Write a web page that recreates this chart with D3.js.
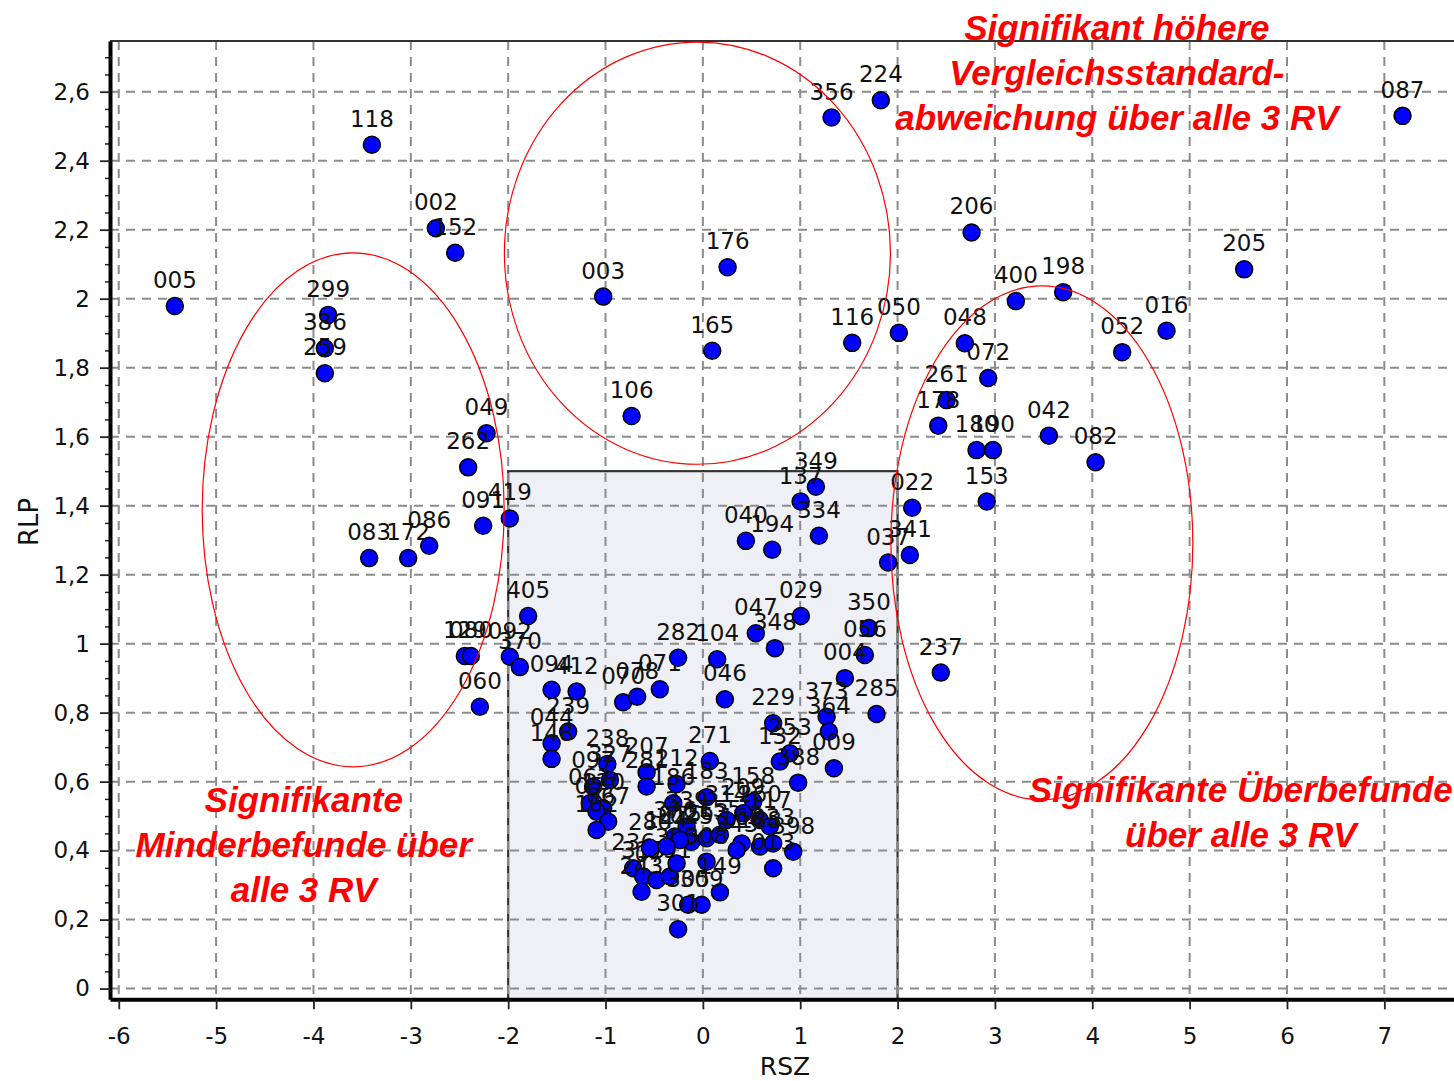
<!DOCTYPE html>
<html>
<head>
<meta charset="utf-8">
<script src="https://cdn.jsdelivr.net/npm/d3@7"></script>
<style>
  html, body { margin: 0; padding: 0; background: #fff; }
  svg { display: block; }
</style>
</head>
<body>
<svg id="chart" width="1454" height="1081"></svg>
<script>
// ---------------- data ----------------
const ids = ["005","118","002","152","299","386","259","049","262","091","419","083","172","086",
  "129","080","092","370","060","405","094","412","239","044","148","070","078","071","282","104",
  "046","047","348","029","350","056","004","285","229","373","364","253","132","009","388","158",
  "349","137","334","040","194","022","341","037","237","261","178","180","190","153","042","082",
  "072","048","400","198","052","016","205","087","206","356","224","176","003","165","116","050","106",
  "238","327","207","281","271","212","183","097","062","120","057","067","102","186","339","376",
  "025","263","155","314","209","260","117","168","188","033","398","343","013","236","318","077",
  "291","300","308","243","149","309","305","301","015","144","280"];
const rsz = [-5.424,-3.400,-2.743,-2.544,-3.849,-3.883,-3.883,-2.222,-2.411,-2.257,-1.983,-3.428,-3.027,-2.811,
  -2.445,-2.383,-1.983,-1.880,-2.291,-1.795,-1.554,-1.297,-1.384,-1.554,-1.554,-0.819,-0.675,-0.442,-0.254,0.147,
  0.226,0.544,0.740,1.007,1.705,1.664,1.459,1.784,0.722,1.271,1.294,0.894,0.791,1.346,0.979,0.517,
  1.161,1.004,1.192,0.442,0.712,2.150,2.126,1.903,2.444,2.504,2.418,2.811,2.980,2.916,3.554,4.034,
  2.931,2.691,3.215,3.701,4.307,4.763,5.560,7.187,2.760,1.322,1.828,0.254,-1.024,0.096,1.534,2.013,-0.732,
  -0.981,-0.955,-0.578,-0.578,0.072,-0.270,0.038,-1.127,-1.161,-1.024,-1.092,-0.973,-1.092,-0.304,-0.167,-0.288,
  -0.116,0.038,0.175,0.243,0.414,0.586,0.688,0.398,0.586,0.722,0.928,0.346,0.722,-0.716,-0.613,-0.476,
  -0.339,-0.270,0.038,-0.630,0.175,-0.013,-0.151,-0.254,-0.236,-0.373,-0.544];
const rlp = [1.979,2.446,2.204,2.133,1.953,1.856,1.784,1.610,1.511,1.342,1.363,1.248,1.248,1.284,
  0.964,0.964,0.962,0.932,0.817,1.080,0.866,0.861,0.745,0.711,0.666,0.830,0.846,0.868,0.959,0.955,
  0.839,1.030,0.987,1.080,1.045,0.967,0.900,0.796,0.769,0.788,0.745,0.682,0.658,0.639,0.597,0.542,
  1.455,1.412,1.313,1.298,1.272,1.394,1.257,1.235,0.916,1.706,1.632,1.561,1.561,1.412,1.603,1.526,
  1.770,1.871,1.993,2.019,1.845,1.907,2.085,2.530,2.192,2.525,2.575,2.091,2.006,1.849,1.872,1.901,1.660,
  0.651,0.605,0.627,0.586,0.660,0.593,0.555,0.586,0.537,0.523,0.513,0.484,0.460,0.537,0.470,0.441,
  0.426,0.436,0.446,0.489,0.508,0.489,0.470,0.421,0.412,0.421,0.397,0.402,0.349,0.349,0.325,0.315,
  0.325,0.363,0.368,0.281,0.279,0.243,0.243,0.172,0.431,0.412,0.408];

const xTicks = [-6,-5,-4,-3,-2,-1,0,1,2,3,4,5,6,7];
const xTickLabels = ["-6","-5","-4","-3","-2","-1","0","1","2","3","4","5","6","7"];
const yTicks = [0,0.2,0.4,0.6,0.8,1,1.2,1.4,1.6,1.8,2,2.2,2.4,2.6];
const yTickLabels = ["0","0,2","0,4","0,6","0,8","1","1,2","1,4","1,6","1,8","2","2,2","2,4","2,6"];
const xTitle = "RSZ";
const yTitle = "RLP";

// tolerance box (RSZ -2..2, RLP up to 1.5)
const boxX = [-2, 2];
const boxYTop = 1.5;

// annotation ellipses: [cx, cy, rx, ry] in data units
const ellCx = [-3.592, -0.056, 3.482];
const ellCy = [1.388, 2.132, 1.292];
const ellRx = [1.551, 1.983, 1.551];
const ellRy = [0.745, 0.612, 0.745];

// annotation texts
const noteLines = [
  ["Signifikant höhere", "Vergleichsstandard-", "abweichung über alle 3 RV"],
  ["Signifikante", "Minderbefunde über", "alle 3 RV"],
  ["Signifikante Überbefunde", "über alle 3 RV"]
];
const noteX = [4.253, -4.10, 5.526];
const noteY = [2.750, 0.513, 0.542];

// ---------------- layout ----------------
const svg = d3.select("#chart");
const L = 110, T = 41, R = 1470, B = 999.3;
const x = d3.scaleLinear().domain([-6.09, 7.88]).range([L, R]);
const y = d3.scaleLinear().domain([-0.031, 2.747]).range([B, T]);
const lineSpacing = 45;

svg.append("rect").attr("width", 1454).attr("height", 1081).attr("fill", "#fff");

svg.append("defs").append("clipPath").attr("id", "plotclip")
  .append("rect").attr("x", L).attr("y", T).attr("width", R - L).attr("height", B - T);

const plot = svg.append("g").attr("clip-path", "url(#plotclip)");

// grey box
plot.append("rect")
  .attr("x", x(boxX[0])).attr("y", y(boxYTop))
  .attr("width", x(boxX[1]) - x(boxX[0]))
  .attr("height", y(-0.031) - y(boxYTop) + 4)
  .attr("fill", "#eef0f5")
  .attr("stroke", "#333").attr("stroke-width", 2.2);

// grid
const grid = plot.append("g").attr("stroke", "#8c8c8c").attr("stroke-width", 2)
  .attr("stroke-dasharray", "9,7").attr("fill", "none");
grid.selectAll("line.gx").data(xTicks).join("line").attr("class", "gx")
  .attr("x1", d => x(d)).attr("x2", d => x(d)).attr("y1", T).attr("y2", B);
grid.selectAll("line.gy").data(yTicks).join("line").attr("class", "gy")
  .attr("y1", d => y(d)).attr("y2", d => y(d)).attr("x1", L).attr("x2", R);

// points + labels
const pts = ids.map((id, i) => ({ id, rsz: rsz[i], rlp: rlp[i] }));
const pg = plot.selectAll("g.pt").data(pts).join("g").attr("class", "pt");
pg.append("circle")
  .attr("cx", d => x(d.rsz)).attr("cy", d => y(d.rlp)).attr("r", 8.5)
  .attr("fill", "#0000ff").attr("stroke", "#000").attr("stroke-width", 1.5);
pg.append("text")
  .attr("x", d => x(d.rsz)).attr("y", d => y(d.rlp) - 18)
  .attr("text-anchor", "middle")
  .attr("font-family", "DejaVu Sans, sans-serif").attr("font-size", 23)
  .attr("fill", "#111")
  .text(d => d.id);

// top border
svg.append("line").attr("x1", L).attr("x2", R).attr("y1", T).attr("y2", T)
  .attr("stroke", "#333").attr("stroke-width", 2);

// axes
const yAxis = d3.axisLeft(y).tickValues(yTicks).tickSize(10).tickSizeOuter(0).tickPadding(10)
  .tickFormat((d, i) => yTickLabels[i]);
const yMinor = d3.axisLeft(y).tickValues(d3.range(0, 2.75, 0.05).filter(v => Math.abs(v * 5 - Math.round(v * 5)) > 1e-6))
  .tickSize(5).tickSizeOuter(0).tickFormat("");
const xAxis = d3.axisBottom(x).tickValues(xTicks).tickSize(10).tickSizeOuter(0).tickPadding(18)
  .tickFormat((d, i) => xTickLabels[i]);

const gyMinor = svg.append("g").attr("transform", `translate(${L},0)`).call(yMinor);
gyMinor.select(".domain").remove();
gyMinor.selectAll(".tick line").attr("stroke", "#222").attr("stroke-width", 1.5);

const gy = svg.append("g").attr("transform", `translate(${L},0)`).call(yAxis);
const gx = svg.append("g").attr("transform", `translate(0,${B})`).call(xAxis);
[gx, gy].forEach(g => {
  g.select(".domain").attr("stroke", "#000").attr("stroke-width", 4);
  g.selectAll(".tick line").attr("stroke", "#222").attr("stroke-width", 1.8);
  g.selectAll(".tick text").attr("font-family", "DejaVu Sans, sans-serif")
    .attr("font-size", 23).attr("fill", "#111");
});

// axis titles
svg.append("text").attr("x", 785).attr("y", 1075).attr("text-anchor", "middle")
  .attr("font-family", "DejaVu Sans, sans-serif").attr("font-size", 25).attr("fill", "#111")
  .text(xTitle);
svg.append("text").attr("transform", "translate(38,522) rotate(-90)").attr("text-anchor", "middle")
  .attr("font-family", "DejaVu Sans, sans-serif").attr("font-size", 26).attr("fill", "#111")
  .text(yTitle);

// ellipses
svg.append("g").selectAll("ellipse").data(ellCx).join("ellipse")
  .attr("cx", d => x(d))
  .attr("cy", (d, i) => y(ellCy[i]))
  .attr("rx", (d, i) => x(ellRx[i]) - x(0))
  .attr("ry", (d, i) => y(0) - y(ellRy[i]))
  .attr("fill", "none").attr("stroke", "#ff0000").attr("stroke-width", 1.2);

// annotation text
noteLines.forEach((lines, k) => {
  const t = svg.append("text")
    .attr("text-anchor", "middle")
    .attr("font-family", "Liberation Sans, Arial, sans-serif")
    .attr("font-style", "italic")
    .attr("font-weight", "bold")
    .attr("font-size", 35)
    .attr("fill", "#ff0000");
  lines.forEach((ln, j) => {
    t.append("tspan").attr("x", x(noteX[k])).attr("y", y(noteY[k]) + j * lineSpacing).text(ln);
  });
});
</script>
</body>
</html>
